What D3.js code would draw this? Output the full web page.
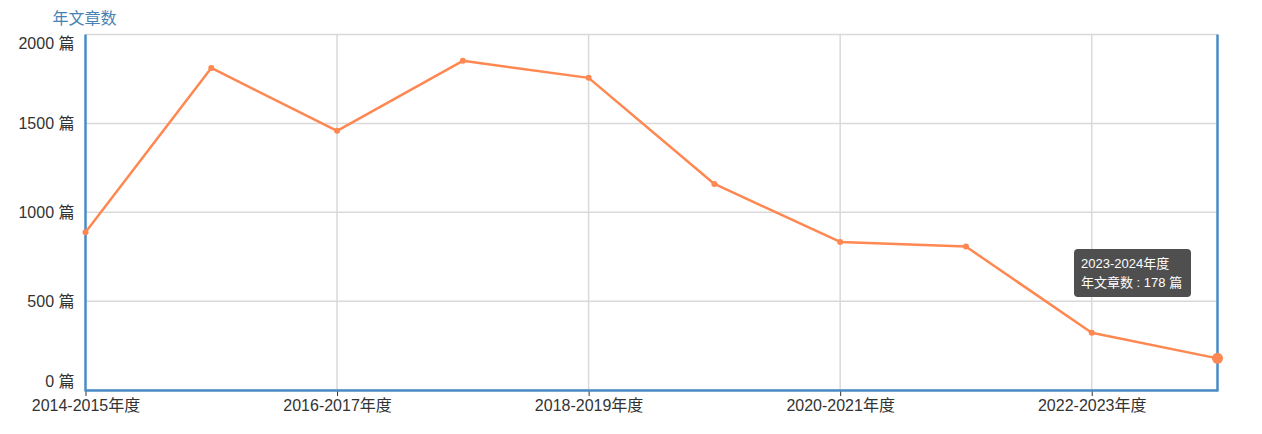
<!DOCTYPE html>
<html><head><meta charset="utf-8">
<script src="https://cdn.jsdelivr.net/npm/d3@7/dist/d3.min.js"></script>
<style>
html,body{margin:0;padding:0;background:#fff;}
svg{display:block;font-family:"Liberation Sans",Arial,"Noto Sans CJK SC",sans-serif;}
</style></head>
<body><svg id="c" width="1262" height="434"></svg>
<script>
const categories = ["2014-2015年度","2015-2016年度","2016-2017年度","2017-2018年度","2018-2019年度","2019-2020年度","2020-2021年度","2021-2022年度","2022-2023年度","2023-2024年度"];
const values = [888, 1812, 1458, 1852, 1756, 1159, 833, 807, 322, 178];
const yTicks = [0, 500, 1000, 1500, 2000];
const seriesName = "年文章数";
const unit = "篇";
const highlightIndex = 9;

(function(){
const svg = d3.select("#c");
const pL = 85.5, pR = 1217.5, pT = 34.5, pB = 390;
const x = d3.scalePoint().domain(categories).range([pL, pR]);
const y = d3.scaleLinear().domain([0, 2000]).range([pB, pT]);
const axisBlue = "#4a8bc4", lineColor = "#ff8751", gridColor = "#d9d9d9";
const ff = '"Liberation Sans",Arial,"Noto Sans CJK SC",sans-serif';

// horizontal grid
svg.append("g").selectAll("line").data(yTicks).join("line")
  .attr("x1", pL).attr("x2", pR)
  .attr("y1", d => y(d)).attr("y2", d => y(d))
  .attr("stroke", gridColor).attr("stroke-width", 1.5);

// vertical grid at labeled categories
const labeled = categories.filter((d, i) => i % 2 === 0);
svg.append("g").selectAll("line").data(labeled.slice(1)).join("line")
  .attr("x1", d => x(d)).attr("x2", d => x(d))
  .attr("y1", pT).attr("y2", pB)
  .attr("stroke", gridColor).attr("stroke-width", 1.5);

// x axis ticks + labels
const xa = svg.append("g").attr("transform", `translate(0,${pB})`)
  .call(d3.axisBottom(x).tickValues(labeled).tickSize(6).tickSizeOuter(0).tickPadding(4));
xa.select(".domain").remove();
xa.selectAll(".tick line").attr("stroke", "#333").attr("stroke-width", 1);
xa.selectAll(".tick text").attr("font-size", 16).attr("fill", "#333").attr("font-family", ff);

// y labels
const ya = svg.append("g").attr("transform", `translate(${pL},0)`)
  .call(d3.axisLeft(y).tickValues(yTicks).tickSize(0).tickPadding(11).tickFormat(d => d + " " + unit));
ya.select(".domain").remove();
ya.selectAll(".tick text").attr("font-size", 16).attr("fill", "#333").attr("font-family", ff)
  .attr("dy", d => d === 2000 ? "0.85em" : d === 0 ? "-0.2em" : "0.32em");

// axis frame lines
svg.append("line").attr("x1", pL).attr("x2", pL).attr("y1", pT).attr("y2", pB + 1.5)
  .attr("stroke", axisBlue).attr("stroke-width", 2.5);
svg.append("line").attr("x1", pR).attr("x2", pR).attr("y1", pT).attr("y2", pB + 1.5)
  .attr("stroke", axisBlue).attr("stroke-width", 2.5);
svg.append("line").attr("x1", pL).attr("x2", pR).attr("y1", pB + 0.5).attr("y2", pB + 0.5)
  .attr("stroke", axisBlue).attr("stroke-width", 2.5);

// title
svg.append("text").attr("x", 52.5).attr("y", 24).attr("font-size", 16)
  .attr("fill", "#4682b4").text(seriesName);

// line
const line = d3.line().x((d, i) => x(categories[i])).y(d => y(d));
svg.append("path").datum(values).attr("d", line)
  .attr("fill", "none").attr("stroke", lineColor).attr("stroke-width", 2.5)
  .attr("stroke-linejoin", "round");

svg.append("g").selectAll("circle").data(values).join("circle")
  .attr("cx", (d, i) => x(categories[i])).attr("cy", d => y(d))
  .attr("r", (d, i) => i === highlightIndex ? 5.5 : 3)
  .attr("fill", lineColor);

// tooltip
const tip = svg.append("g").attr("transform", "translate(1074,249)");
tip.append("rect").attr("width", 117).attr("height", 48).attr("rx", 4)
  .attr("fill", "#4f4f4f");
tip.append("text").attr("x", 7).attr("y", 19).attr("font-size", 13).attr("fill", "#fff")
  .text(categories[highlightIndex]);
tip.append("text").attr("x", 7).attr("y", 38).attr("font-size", 13).attr("fill", "#fff")
  .text(`${seriesName} : ${values[highlightIndex]} ${unit}`);
})();
</script>
</body></html>
